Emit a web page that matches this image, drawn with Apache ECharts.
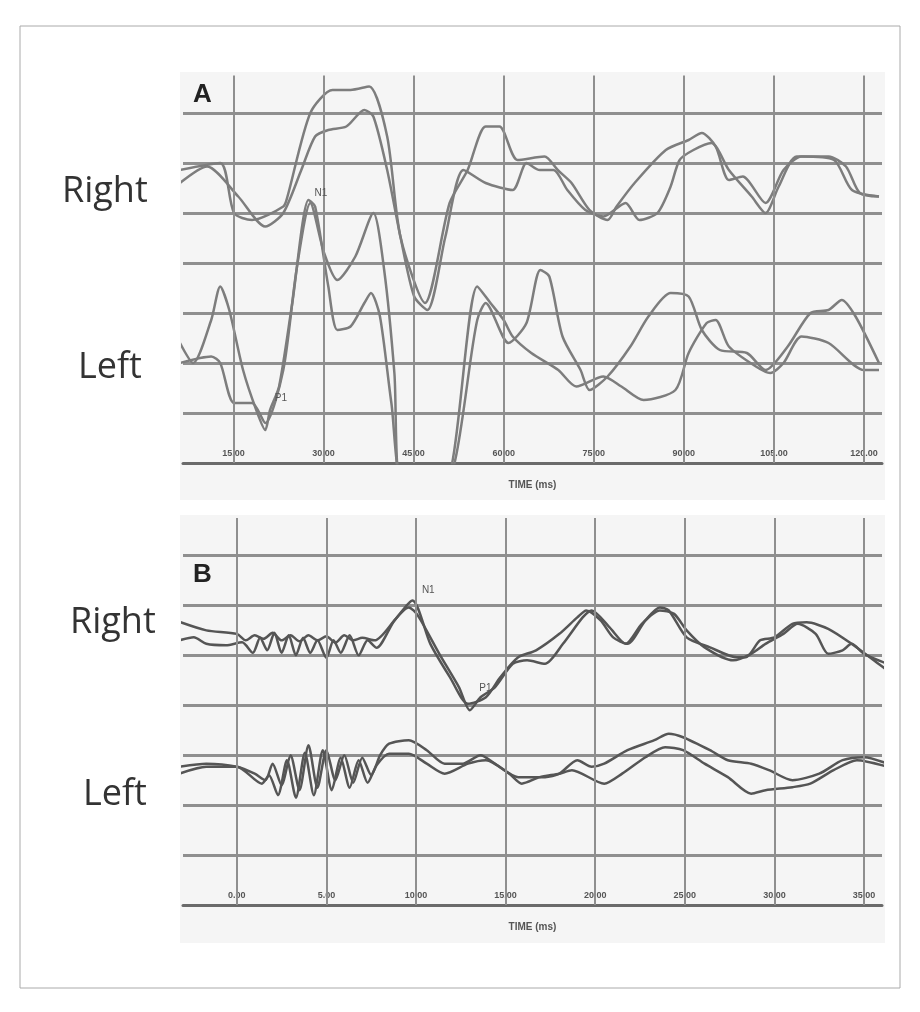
<!DOCTYPE html>
<html><head><meta charset="utf-8">
<script src="https://cdn.jsdelivr.net/npm/echarts@6/dist/echarts.min.js"></script>
<style>html,body{margin:0;background:#fff}#c{width:920px;height:1012px}</style>
</head><body><div id="c"></div>
<script>
// Panel A (x: ms, y: grid units)
const ticksA = [15,30,45,60,75,90,105,120];
const ticksB = [0,5,10,15,20,25,30,35];
const rightA1 = [[6.1,5.86],[12.8,6.0],[15.1,5.0],[18.1,4.86],[23.3,5.13],[24,5.33],[27.8,7.0],[31.5,7.46],[34.5,7.46],[37.6,7.53],[40.6,6.53],[42.8,4.53],[46.9,3.2],[51,5.2],[54,5.86],[57,6.73],[59.3,6.73],[62.3,6.06],[66.8,6.13],[69,5.86],[71.3,5.6],[74.3,5.06],[77.3,4.86],[78.8,5.13],[81.8,5.6],[87,6.26],[90.8,6.46],[93,6.6],[95.3,6.33],[97.5,5.66],[99.8,5.73],[103.6,5.2],[106.6,5.86],[109.6,6.13],[115,6.06],[118,5.46],[122.5,5.33]];
const rightA2 = [[6.1,5.6],[10.6,5.93],[15.8,5.33],[20.3,4.73],[23.3,5.0],[26.3,5.86],[28.6,6.53],[30.8,6.66],[33.8,6.73],[36.8,7.06],[38.3,6.93],[40.6,5.86],[42.8,4.53],[45.1,3.33],[47.3,3.06],[50.3,4.53],[53.3,5.86],[57,5.6],[61.5,5.46],[63.8,6.0],[66,5.86],[68.3,5.86],[70.6,5.46],[73.6,5.06],[76.6,4.93],[80.3,5.2],[82.6,4.86],[85.6,5.0],[87.8,5.53],[89.3,6.06],[91.6,6.26],[94.6,6.4],[97.5,5.86],[101.3,5.33],[103.6,5.0],[105.8,5.53],[108.8,6.13],[114.1,6.13],[117,5.93],[119.3,5.4],[122.5,5.33]];
const leftA1 = [[6.1,2.4],[8.3,2.0],[11.3,2.86],[12.8,3.53],[14.3,3.06],[16.6,1.86],[18.8,1.06],[20.3,0.66],[21.1,1.06],[22.6,1.53],[24.8,3.2],[27.5,5.26],[28.6,5.13],[30.8,3.53],[32.3,2.66],[34.5,2.73],[36.8,3.2],[37.9,3.4],[39.4,2.93],[41.3,1.2],[43.5,-0.5],[49.9,-0.5],[55.6,3.53],[57.8,3.2],[60,2.86],[61.5,2.53],[64.6,2.2],[69.1,1.86],[72.1,1.53],[76.6,1.73],[79.6,1.53],[83.3,1.26],[88.6,1.46],[90.8,2.2],[93.8,2.8],[95.3,2.86],[97.5,2.33],[102,1.93],[104.4,1.8],[106.6,2.0],[109.6,2.53],[114.1,2.4],[120,1.86],[122.5,1.86]];
const leftA2 = [[6.1,2.0],[11.3,2.13],[12.8,2.0],[15.1,1.2],[18.1,1.2],[20.3,0.8],[23.3,1.86],[25.5,3.86],[27.8,5.2],[30.1,4.2],[32.3,3.66],[35.3,4.13],[38.3,5.0],[40.1,3.86],[41.8,1.8],[43.0,-0.5],[49.9,-0.5],[55.6,2.86],[57,3.2],[60.8,2.4],[63.8,2.8],[66.1,3.86],[67.6,3.73],[69.8,2.53],[72.8,1.86],[74.3,1.46],[77.3,1.73],[81.1,2.33],[84.1,2.93],[87.8,3.4],[90.8,3.33],[93,2.66],[96,2.26],[100.5,2.2],[103.6,1.86],[107.3,2.33],[111.1,3.0],[114.1,3.06],[116.3,3.26],[118.6,2.93],[122.5,2.0]];
// Panel B
const rightB1 = [[-3.2,5.67],[-1.7,5.5],[0,5.43],[0.5,5.3],[1,5.4],[1.5,5.33],[2,5.45],[2.5,5.3],[3,5.4],[3.5,5.28],[4,5.4],[4.5,5.3],[5,5.38],[5.5,5.25],[6,5.4],[6.5,5.3],[7,5.35],[7.7,5.3],[8.8,5.7],[9.8,6.1],[10.8,5.23],[11.9,4.56],[12.9,4.03],[13.9,4.16],[14.7,4.56],[15.7,4.96],[16.7,5.1],[18,5.43],[19,5.76],[19.5,5.9],[20.3,5.7],[21,5.36],[21.8,5.23],[22.8,5.7],[23.6,5.96],[24.1,5.9],[25.1,5.36],[26.4,5.16],[27.9,4.96],[28.4,4.96],[29.2,5.3],[30,5.36],[31,5.63],[31.8,5.66],[33,5.53],[34.3,5.23],[35.8,4.83],[36.3,4.7]];
const rightB2 = [[-3.2,5.3],[-2.4,5.36],[-1.7,5.23],[-0.6,5.2],[0.3,5.26],[0.9,5.05],[1.3,5.35],[1.7,5.1],[2.1,5.45],[2.5,5.05],[2.9,5.4],[3.3,5.0],[3.7,5.35],[4.1,5.05],[4.5,5.3],[5,4.95],[5.4,5.3],[5.8,5.05],[6.3,5.4],[6.8,5.0],[7.3,5.3],[7.8,5.15],[8.8,5.7],[9.6,5.96],[10.1,5.8],[11.3,5.03],[12.4,4.36],[13,3.9],[13.6,4.16],[14.4,4.36],[15.4,4.83],[16.2,4.9],[17.2,4.83],[18.2,5.23],[19.3,5.76],[19.8,5.9],[20.8,5.56],[21.7,5.23],[22.6,5.63],[23.6,5.9],[24.4,5.83],[25.1,5.5],[26.1,5.16],[27.7,4.9],[28.7,5.03],[29.5,5.23],[30.5,5.43],[31.3,5.63],[32.3,5.43],[33,5.03],[33.8,5.1],[34.3,5.23],[35,5.03],[36.3,4.83]];
const leftB1 = [[-3.2,2.77],[-1.7,2.83],[0,2.77],[1,2.63],[1.6,2.5],[2,2.83],[2.5,2.4],[3,3.0],[3.5,2.3],[4,3.2],[4.5,2.35],[5,3.1],[5.5,2.5],[6,3.0],[6.5,2.45],[7,2.95],[7.5,2.6],[8,3.0],[8.5,3.23],[9.6,3.3],[10.6,3.1],[11.6,2.83],[12.6,2.83],[13.6,3.0],[14.4,2.83],[15.7,2.56],[17.2,2.56],[18,2.63],[19,2.9],[19.8,2.77],[20.5,2.83],[21.8,3.1],[23.3,3.3],[24.1,3.43],[24.9,3.36],[26.4,3.1],[27.4,2.9],[28.7,2.83],[29.7,2.7],[31,2.5],[32.5,2.63],[33.8,2.9],[35,2.96],[36.3,2.83]];
const leftB2 = [[-3.2,2.63],[-1.7,2.77],[0,2.77],[1.4,2.43],[1.8,2.6],[2.3,2.2],[2.8,2.9],[3.3,2.15],[3.8,3.05],[4.3,2.2],[4.8,3.1],[5.3,2.3],[5.8,2.95],[6.3,2.35],[6.8,2.9],[7.3,2.45],[7.8,2.8],[8.5,3.03],[9.6,3.03],[10.6,2.83],[11.6,2.63],[12.9,2.83],[13.9,2.9],[15.2,2.63],[15.9,2.43],[16.9,2.56],[18,2.63],[18.7,2.7],[20.5,2.43],[21.5,2.63],[22.8,2.96],[23.9,3.16],[24.9,3.1],[26.1,2.83],[27.4,2.56],[28.7,2.23],[29.5,2.3],[31,2.36],[32,2.43],[33.3,2.7],[34.6,2.9],[36.3,2.77]];
const markersA = [{name:'N1',coord:[28.4,5.4]},{name:'P1',coord:[21.8,1.3]}];
const markersB = [{name:'N1',coord:[10.3,6.3]},{name:'P1',coord:[13.5,4.35]}];

const chart = echarts.init(document.getElementById('c'));
const gridLineStyle = {color:'#8f8f8f', width:3};
function xAx(idx,min,max,ticks){
  return {type:'value',gridIndex:idx,min:min,max:max,
    axisLine:{show:true,onZero:false,lineStyle:{color:'#6a6a6a',width:3}},
    axisTick:{show:false},splitLine:{show:false},
    axisLabel:{inside:true,margin:5,customValues:ticks,formatter:v=>v.toFixed(2),color:'#555',fontSize:9,fontWeight:'bold',fontFamily:'Liberation Sans'},
    name:'TIME (ms)',nameLocation:'middle',nameGap:17,nameTextStyle:{color:'#555',fontSize:10,fontWeight:'bold',fontFamily:'Liberation Sans'}};
}
function yAx(idx){
  return {type:'value',gridIndex:idx,min:0,max:7.75,interval:1,axisLine:{show:false},axisTick:{show:false},axisLabel:{show:false},
    splitLine:{show:true,showMaxLine:false,showMinLine:false,lineStyle:gridLineStyle}};
}
function curve(idx,data,color,extra){
  return Object.assign({type:'line',xAxisIndex:idx,yAxisIndex:idx,data:data,showSymbol:false,symbol:'none',clip:true,smooth:0.25,
    lineStyle:{color:color,width:2.5},z:3},extra||{});
}
function vlines(idx,ticks){
  return {type:'line',xAxisIndex:idx,yAxisIndex:idx,data:[],z:1,
    markLine:{silent:true,symbol:'none',label:{show:false},lineStyle:{color:'#8f8f8f',width:2,type:'solid'},
      data:ticks.map(t=>({xAxis:t}))}};
}
function marks(data){
  return {symbol:'circle',symbolSize:1,itemStyle:{color:'rgba(0,0,0,0)'},data:data.map(d=>({name:d.name,coord:d.coord,value:d.name})),
    label:{show:true,formatter:'{b}',color:'#555',fontSize:10,fontFamily:'Liberation Sans',position:'right',distance:0}};
}
const colA='#7d7d7d', colB='#555';
chart.setOption({
  backgroundColor:'#fff',
  animation:false,
  graphic:[
    {type:'rect',shape:{x:20,y:26,width:880,height:962},style:{fill:'none',stroke:'#aaa',lineWidth:1},z:-10},
    {type:'rect',shape:{x:180,y:72,width:705,height:428},style:{fill:'#f5f5f5'},z:-5},
    {type:'rect',shape:{x:180,y:515,width:705,height:428},style:{fill:'#f5f5f5'},z:-5},
    {type:'text',left:193,top:82,style:{text:'A',font:'bold 26px "Liberation Sans"',fill:'#222'},z:10},
    {type:'text',left:193,top:562,style:{text:'B',font:'bold 26px "Liberation Sans"',fill:'#222'},z:10},
    {type:'text',left:62,top:174,style:{text:'Right',font:'36px "Open Sans"',fill:'#333'}},
    {type:'text',left:78,top:350,style:{text:'Left',font:'36px "Open Sans"',fill:'#333'}},
    {type:'text',left:70,top:605,style:{text:'Right',font:'36px "Open Sans"',fill:'#333'}},
    {type:'text',left:83,top:777,style:{text:'Left',font:'36px "Open Sans"',fill:'#333'}}
  ],
  grid:[{left:183,right:38,top:75.5,height:387.5},{left:183,right:38,top:518,height:387}],
  xAxis:[xAx(0,6.6,123,ticksA),xAx(1,-3,36,ticksB)],
  yAxis:[yAx(0),yAx(1)],
  series:[
    vlines(0,ticksA),vlines(1,ticksB),
    curve(0,rightA1,colA),curve(0,rightA2,colA),
    curve(0,leftA1,colA,{markPoint:marks(markersA)}),curve(0,leftA2,colA),
    curve(1,rightB1,colB,{markPoint:marks(markersB)}),curve(1,rightB2,colB),
    curve(1,leftB1,colB),curve(1,leftB2,colB)
  ]
});
</script></body></html>
